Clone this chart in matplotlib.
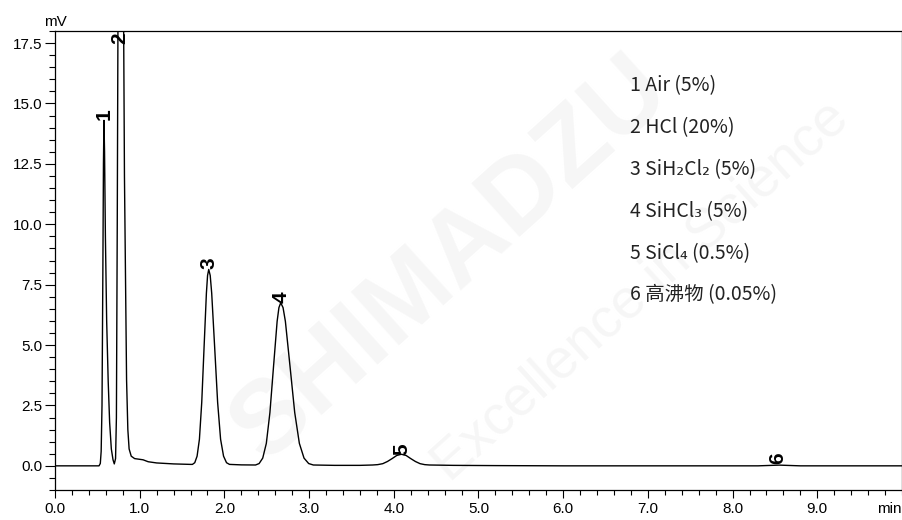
import matplotlib
matplotlib.use("Agg")
import matplotlib.pyplot as plt
from matplotlib.ticker import MultipleLocator

# chromatogram trace (time in min, signal in mV)
time_min = [0.00, 0.50, 0.52, 0.535, 0.545, 0.555, 0.565, 0.572, 0.578, 0.585, 0.595,
            0.61, 0.628, 0.645, 0.665, 0.685, 0.70, 0.715, 0.725, 0.735, 0.745, 0.77,
            0.80, 0.82, 0.845, 0.86, 0.875, 0.90, 0.94, 1.00, 1.04, 1.10, 1.20, 1.40,
            1.60, 1.6225, 1.65, 1.6775, 1.705, 1.7325, 1.76, 1.7875, 1.80125, 1.815,
            1.8325, 1.85,
            1.885, 1.92, 1.955, 1.99, 2.025, 2.06, 2.20, 2.3675, 2.41, 2.4525, 2.495,
            2.5375, 2.58, 2.6225, 2.64375, 2.665, 2.6925, 2.72, 2.775, 2.83, 2.885,
            2.94, 2.995, 3.05,
            3.30, 3.60, 3.75, 3.81, 3.87, 3.925, 3.98, 4.035, 4.09, 4.145, 4.20, 4.255,
            4.31, 4.365, 4.42, 4.70, 5.20, 6.00, 8.30, 8.55, 8.80, 10.00]
signal_mv = [0.00, 0.00, 0.00, 0.10, 0.60, 2.50, 8.00, 12.50, 14.30, 13.00, 9.50,
             6.00, 3.50, 1.80, 0.70, 0.25, 0.08, 0.30, 2.00, 10.0, 20.0, 30.0,
             25.0, 12.0, 3.55, 1.50, 0.70, 0.40, 0.30, 0.27, 0.25, 0.17, 0.12, 0.08,
             0.06, 0.06, 0.13, 0.40, 1.10, 2.63, 4.91, 7.15, 7.88, 8.13,
             7.88, 7.15,
             4.91, 2.63, 1.10, 0.40, 0.13, 0.06, 0.04, 0.035, 0.095, 0.32, 0.93,
             2.21, 4.11, 5.98, 6.55, 6.75, 6.55, 5.98, 4.11, 2.21, 0.93,
             0.32, 0.095, 0.035,
             0.02, 0.02, 0.035, 0.05, 0.09, 0.18, 0.30, 0.43, 0.48, 0.43, 0.30, 0.18,
             0.09, 0.05, 0.035, 0.02, 0.01, 0.00, 0.00, 0.03, 0.00, 0.00]

# peak labels: number, retention time, label height
peak_ids = ["1", "2", "3", "4", "5", "6"]
peak_rt = [0.578, 0.77, 1.815, 2.665, 4.09, 8.53]
peak_label_y = [14.3, 17.45, 8.13, 6.75, 0.45, 0.06]

legend_lines = ["1 Air (5%)", "2 HCl (20%)", "3 SiH₂Cl₂ (5%)", "4 SiHCl₃ (5%)",
                "5 SiCl₄ (0.5%)", "6 高沸物 (0.05%)"]

plt.rcParams['font.family'] = ['Liberation Sans', 'DejaVu Sans']

fig = plt.figure(figsize=(9.03, 5.2), dpi=100)
ax = fig.add_axes([55 / 903, 30 / 520, 847 / 903, 459 / 520])

# faint watermark, kept behind the axes
fig.text(0.50, 0.50, "SHIMADZU", fontsize=75, fontweight='bold', color='#f6f6f6',
         rotation=42, ha='center', va='center', zorder=-10)
fig.text(0.71, 0.44, "Excellence in Science", fontsize=40, color='#f6f6f6',
         rotation=42, ha='center', va='center', zorder=-10)
ax.set_facecolor('none')

ax.plot(time_min, signal_mv, color='black', lw=1.0)

for lab, x, y in zip(peak_ids, peak_rt, peak_label_y):
    ax.text(x, y, lab, rotation=90, ha='center', va='bottom',
            fontsize=15, fontweight='bold', color='black')

ax.set_xlim(0, 10)
ax.set_ylim(-1, 18)
ax.xaxis.set_minor_locator(MultipleLocator(0.2))
ax.yaxis.set_minor_locator(MultipleLocator(0.5))
ax.set_xticks([0, 1, 2, 3, 4, 5, 6, 7, 8, 9])
ax.set_xticklabels(["%.1f" % v for v in range(10)])
ax.set_yticks([0, 2.5, 5, 7.5, 10, 12.5, 15, 17.5])
ax.set_yticklabels(["0.0", "2.5", "5.0", "7.5", "10.0", "12.5", "15.0", "17.5"])
ax.tick_params(axis='both', which='both', direction='out', labelsize=11, width=0.8)
ax.tick_params(axis='y', which='major', length=7, pad=2)
ax.tick_params(axis='y', which='minor', length=4)
ax.tick_params(axis='x', which='major', length=5.5, pad=3)
ax.tick_params(axis='x', which='minor', length=3.5)
for sp in ax.spines.values():
    sp.set_linewidth(0.9)

ax.text(0.0, 1.005, "mV", transform=ax.transAxes, ha='center', va='bottom', fontsize=11)
ax.text(0.9995, -0.027, "min", transform=ax.transAxes, ha='right', va='top', fontsize=11)

for i, line in enumerate(legend_lines):
    fig.text(630 / 903, 1 - (86 + i * 41.8) / 520, line, fontsize=14, color='#222222',
             ha='left', va='center', family=['Noto Sans CJK SC', 'DejaVu Sans'])

fig.savefig("out.png", dpi=100)
